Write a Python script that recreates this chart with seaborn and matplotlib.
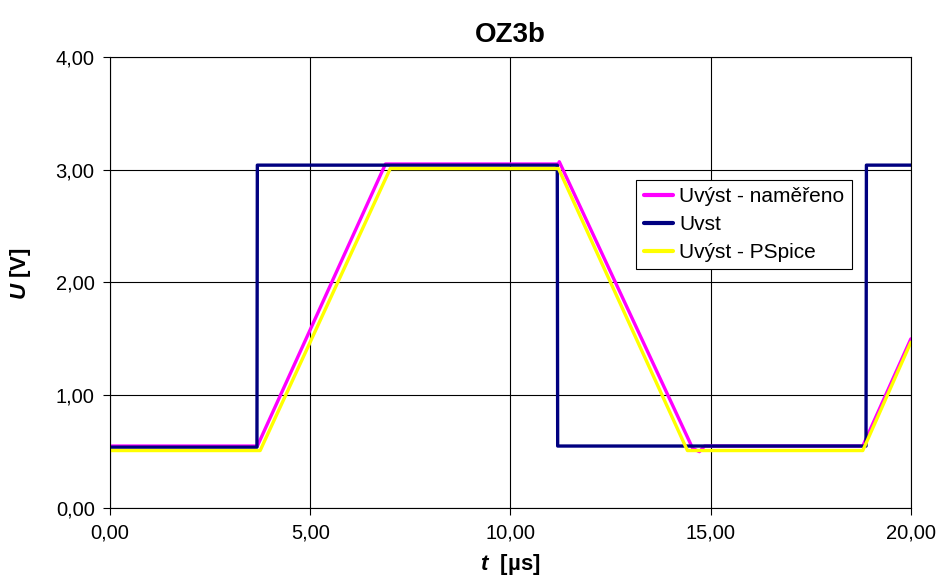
import pandas as pd
import seaborn as sns
import matplotlib
matplotlib.use("Agg")
import matplotlib.pyplot as plt
from matplotlib.ticker import FuncFormatter, MultipleLocator

# time axis [us] and voltages [V]
t_meas = [0.0, 3.68, 6.88, 11.20, 11.22, 14.55, 14.72, 14.85, 18.80, 20.0]
u_meas = [0.55, 0.55, 3.05, 3.05, 3.07, 0.53, 0.50, 0.55, 0.55, 1.50]

t_in = [0.0, 3.67, 3.68, 11.17, 11.18, 18.88, 18.89, 20.0]
u_in = [0.54, 0.54, 3.04, 3.04, 0.55, 0.55, 3.04, 3.04]

t_sim = [0.0, 3.75, 7.00, 11.20, 14.42, 18.80, 20.0]
u_sim = [0.51, 0.51, 3.01, 3.01, 0.51, 0.51, 1.47]

names = ["Uvýst - naměřeno", "Uvst", "Uvýst - PSpice"]
colors = ["#FF00FF", "#000080", "#FFFF00"]

df = pd.concat([
    pd.DataFrame({"t": t_meas, "u": u_meas, "serie": names[0]}),
    pd.DataFrame({"t": t_in, "u": u_in, "serie": names[1]}),
    pd.DataFrame({"t": t_sim, "u": u_sim, "serie": names[2]}),
], ignore_index=True)

sns.set_theme(style="ticks")
plt.rcParams["font.family"] = ["Liberation Sans", "DejaVu Sans"]
plt.rcParams["mathtext.fontset"] = "custom"
plt.rcParams["mathtext.it"] = "Liberation Sans:italic:bold"
plt.rcParams["mathtext.rm"] = "Liberation Sans:bold"
for key in ["text.color", "axes.labelcolor", "xtick.color", "ytick.color"]:
    plt.rcParams[key] = "black"

fig = plt.figure(figsize=(9.4, 5.8), dpi=100)
ax = fig.add_axes([0.117, 0.124, 0.852, 0.778])

sns.lineplot(data=df, x="t", y="u", hue="serie", palette=colors,
             estimator=None, sort=False, linewidth=2.4, ax=ax)

ax.set_xlim(0, 20)
ax.set_ylim(0, 4)
ax.xaxis.set_major_locator(MultipleLocator(5))
ax.yaxis.set_major_locator(MultipleLocator(1))
comma = FuncFormatter(lambda v, pos: f"{v:.2f}".replace(".", ","))
ax.xaxis.set_major_formatter(comma)
ax.yaxis.set_major_formatter(comma)
ax.tick_params(labelsize=14.5, length=5, width=0.8, color="black", pad=6)

ax.grid(True, color="black", linewidth=0.8)
ax.set_axisbelow(True)
for s in ax.spines.values():
    s.set_color("black")
    s.set_linewidth(0.8)

ax.set_title("OZ3b", fontsize=20, fontweight="bold", pad=11)
ax.set_xlabel("$t$  [µs]", fontsize=16, fontweight="bold")
ax.set_ylabel("$U$ [V]", fontsize=16, fontweight="bold")
ax.xaxis.set_label_coords(0.5, -0.098)
ax.yaxis.set_label_coords(-0.096, 0.52)

leg = ax.legend(loc="upper right", bbox_to_anchor=(0.926, 0.727),
                fontsize=15, frameon=True, fancybox=False, framealpha=1,
                edgecolor="black", borderpad=0.35, labelspacing=0.42,
                handlelength=1.4, handletextpad=0.3, borderaxespad=0)
leg.get_frame().set_linewidth(0.8)
for line in leg.get_lines():
    line.set_linewidth(3)

fig.savefig("out.png", dpi=100)
